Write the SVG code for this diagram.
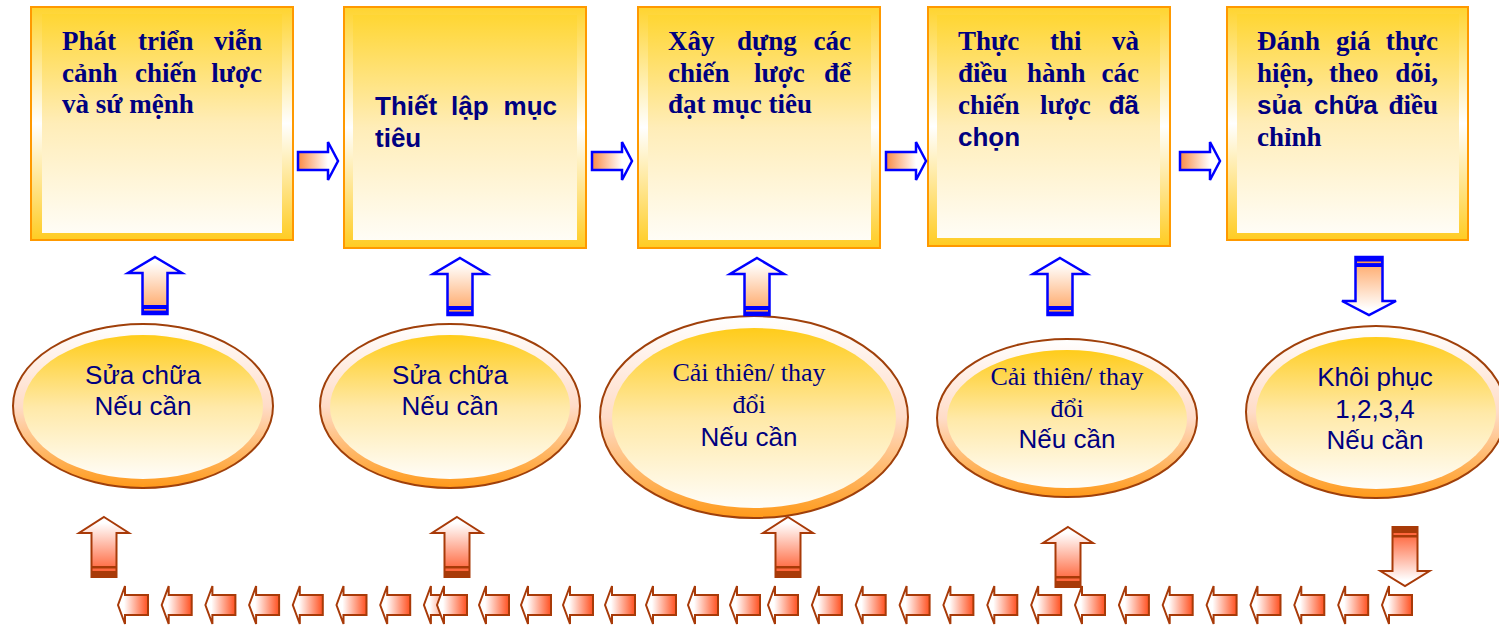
<svg xmlns="http://www.w3.org/2000/svg" width="1499" height="626" viewBox="0 0 1499 626">
<defs>
<linearGradient id="gBand" x1="0" y1="0" x2="0" y2="1"><stop offset="0" stop-color="#FFD42F"/><stop offset="0.5" stop-color="#FFFFFF"/><stop offset="1" stop-color="#FFCC22"/></linearGradient>
<linearGradient id="gInner" x1="0" y1="0" x2="0" y2="1"><stop offset="0" stop-color="#FFD633"/><stop offset="0.5" stop-color="#FFEDB8"/><stop offset="1" stop-color="#FFFDF6"/></linearGradient>
<linearGradient id="gRing" x1="0" y1="0" x2="0" y2="1"><stop offset="0" stop-color="#FFFFFF"/><stop offset="0.5" stop-color="#FFDCC8"/><stop offset="1" stop-color="#FF9A1A"/></linearGradient>
<linearGradient id="gEll" x1="0" y1="0" x2="0" y2="1"><stop offset="0" stop-color="#FFCC1A"/><stop offset="0.5" stop-color="#FFE9A8"/><stop offset="1" stop-color="#FFFDF8"/></linearGradient>
<linearGradient id="gBlueUp" x1="0" y1="0" x2="0" y2="1"><stop offset="0.1" stop-color="#FFFFFF"/><stop offset="1" stop-color="#FFA05A"/></linearGradient>
<linearGradient id="gBlueDown" x1="0" y1="0" x2="0" y2="1"><stop offset="0" stop-color="#FFA05A"/><stop offset="0.9" stop-color="#FFFFFF"/></linearGradient>
<linearGradient id="gRight" x1="0" y1="0" x2="1" y2="0"><stop offset="0" stop-color="#F98A45"/><stop offset="0.75" stop-color="#FFFFFF"/></linearGradient>
<linearGradient id="gBrUp" x1="0" y1="0" x2="0" y2="1"><stop offset="0.1" stop-color="#FFFFFF"/><stop offset="1" stop-color="#FF5020"/></linearGradient>
<linearGradient id="gBrDown" x1="0" y1="0" x2="0" y2="1"><stop offset="0" stop-color="#FF5020"/><stop offset="0.9" stop-color="#FFFFFF"/></linearGradient>
<linearGradient id="gLeft" x1="0" y1="0" x2="1" y2="0"><stop offset="0.2" stop-color="#FFFFFF"/><stop offset="1" stop-color="#FF5020"/></linearGradient>
<g id="arrRight"><path d="M0,-9 L30,-9 L30,-19 L40,0 L30,19 L30,9 L0,9 Z" fill="url(#gRight)" stroke="#0000FF" stroke-width="2.5"/></g>
<g id="arrBlueUp"><path d="M0,0 L27,16 L12.5,16 L12.5,57 L-12.5,57 L-12.5,16 L-27,16 Z" fill="url(#gBlueUp)" stroke="#0000FF" stroke-width="2.5" stroke-linejoin="miter"/><rect x="-12.5" y="48" width="25" height="9" fill="#0000FF"/><rect x="-11" y="52" width="22" height="1.6" fill="#FF9A50"/></g>
<g id="arrBlueDown"><path d="M-13.5,0 L13.5,0 L13.5,44 L27,44 L0,58 L-27,44 L-13.5,44 Z" fill="url(#gBlueDown)" stroke="#0000FF" stroke-width="2.5"/><rect x="-13.5" y="0" width="27" height="10" fill="#0000FF"/><rect x="-12" y="4.5" width="24" height="1.6" fill="#FF9A50"/></g>
<g id="arrBrUp"><path d="M0,0 L25,16 L12.5,16 L12.5,60 L-12.5,60 L-12.5,16 L-25,16 Z" fill="url(#gBrUp)" stroke="#A83A08" stroke-width="2"/><rect x="-12.5" y="49" width="25" height="2.5" fill="#A83A08"/><rect x="-12.5" y="54" width="25" height="6" fill="#A83A08"/></g>
<g id="arrBrDown"><path d="M-12.5,0 L12.5,0 L12.5,44 L24.5,44 L0,59 L-24.5,44 L-12.5,44 Z" fill="url(#gBrDown)" stroke="#A83A08" stroke-width="2"/><rect x="-12.5" y="0" width="25" height="6" fill="#A83A08"/><rect x="-12.5" y="8" width="25" height="2.5" fill="#A83A08"/></g>
<g id="arrLeft"><path d="M0,0 L7,-19 L7,-10 L30,-10 L30,10 L7,10 L7,19 Z" fill="url(#gLeft)" stroke="#A83A08" stroke-width="2"/></g>
</defs>
<style>
.band{fill:url(#gBand);stroke:#FF9900;stroke-width:2}
.inner{fill:url(#gInner)}
.ring{fill:url(#gRing);stroke:#A0400A;stroke-width:2}
.ein{fill:url(#gEll)}
.bs{font-family:"Liberation Serif","Times New Roman",serif;font-weight:bold;font-size:27px;fill:#000080}
.ba{font-family:"Liberation Sans",Arial,sans-serif;font-weight:bold;font-size:26px;fill:#000080}
.es{font-family:"Liberation Serif","Times New Roman",serif;font-size:26px;fill:#000080;text-anchor:middle}
.ea{font-family:"Liberation Sans",Arial,sans-serif;font-size:26px;fill:#000080;text-anchor:middle}
.e{text-anchor:end}
</style>
<rect width="1499" height="626" fill="#FFFFFF"/>

<g id="box1">
<rect class="band" x="31" y="7" width="262" height="233"/>
<rect class="inner" x="42" y="14" width="240" height="219"/>
<text class="bs" x="62" y="50">Phát</text><text class="bs" x="138" y="50">triển</text><text class="bs e" x="262" y="50">viễn</text>
<text class="bs" x="62" y="82">cảnh</text><text class="bs" x="135" y="82">chiến</text><text class="bs e" x="262" y="82">lược</text>
<text class="bs" x="62" y="113">và sứ mệnh</text>
</g>

<g id="box2">
<rect class="band" x="344" y="7" width="242" height="241"/>
<rect class="inner" x="353" y="15" width="224" height="225"/>
<text class="ba" x="375" y="115">Thiết</text><text class="ba" x="451" y="115">lập</text><text class="ba e" x="557" y="115">mục</text>
<text class="ba" x="375" y="147">tiêu</text>
</g>

<g id="box3">
<rect class="band" x="638" y="7" width="242" height="241"/>
<rect class="inner" x="648" y="15" width="223" height="225"/>
<text class="bs" x="668" y="50">Xây</text><text class="bs" x="737" y="50">dựng</text><text class="bs e" x="851" y="50">các</text>
<text class="bs" x="668" y="82">chiến</text><text class="bs" x="754" y="82">lược</text><text class="bs e" x="851" y="82">để</text>
<text class="bs" x="668" y="113">đạt mục tiêu</text>
</g>

<g id="box4">
<rect class="band" x="928" y="7" width="242" height="239"/>
<rect class="inner" x="937" y="15" width="223" height="223"/>
<text class="bs" x="958" y="50">Thực</text><text class="bs" x="1050" y="50">thi</text><text class="bs e" x="1139" y="50">và</text>
<text class="bs" x="958" y="82">điều</text><text class="bs" x="1027" y="82">hành</text><text class="bs e" x="1139" y="82">các</text>
<text class="bs" x="958" y="114">chiến</text><text class="bs" x="1040" y="114">lược</text><text class="ba e" x="1139" y="114">đã</text>
<text class="ba" x="958" y="146">chọn</text>
</g>

<g id="box5">
<rect class="band" x="1227" y="7" width="241" height="233"/>
<rect class="inner" x="1237" y="14" width="222" height="219"/>
<text class="bs" x="1257" y="50">Đánh</text><text class="bs" x="1336" y="50">giá</text><text class="bs e" x="1438" y="50">thực</text>
<text class="bs" x="1257" y="82">hiện,</text><text class="bs" x="1329" y="82">theo</text><text class="bs e" x="1438" y="82">dõi,</text>
<text class="ba" x="1257" y="114">sủa</text><text class="ba" x="1314" y="114">chữa</text><text class="bs e" x="1438" y="114">điều</text>
<text class="bs" x="1257" y="146">chỉnh</text>
</g>

<g id="ell1">
<ellipse class="ring" cx="143" cy="406" rx="130" ry="82"/>
<ellipse class="ein" cx="143" cy="407" rx="120" ry="72"/>
<text class="ea" x="143" y="384">Sửa chữa</text>
<text class="ea" x="143" y="415">Nếu cần</text>
</g>

<g id="ell2">
<ellipse class="ring" cx="450" cy="406" rx="130" ry="82"/>
<ellipse class="ein" cx="450" cy="407" rx="120" ry="72"/>
<text class="ea" x="450" y="384">Sửa chữa</text>
<text class="ea" x="450" y="415">Nếu cần</text>
</g>

<g id="ell3">
<ellipse class="ring" cx="754" cy="417" rx="154" ry="101"/>
<ellipse class="ein" cx="754" cy="418" rx="142" ry="90"/>
<text class="es" x="749" y="381">Cải thiên/ thay</text>
<text class="es" x="749" y="413">đổi</text>
<text class="ea" x="749" y="446">Nếu cần</text>
</g>

<g id="ell4">
<ellipse class="ring" cx="1067" cy="418" rx="130" ry="79"/>
<ellipse class="ein" cx="1067" cy="419" rx="120" ry="69"/>
<text class="es" x="1067" y="385">Cải thiên/ thay</text>
<text class="es" x="1067" y="417">đổi</text>
<text class="ea" x="1067" y="448">Nếu cần</text>
</g>

<g id="ell5">
<ellipse class="ring" cx="1376" cy="412" rx="130" ry="86"/>
<ellipse class="ein" cx="1376" cy="413" rx="120" ry="76"/>
<text class="ea" x="1375" y="386">Khôi phục</text>
<text class="ea" x="1375" y="418">1,2,3,4</text>
<text class="ea" x="1375" y="449">Nếu cần</text>
</g>

<g id="connectors">
<use href="#arrRight" transform="translate(298,161)"/>
<use href="#arrRight" transform="translate(592,161)"/>
<use href="#arrRight" transform="translate(886,161)"/>
<use href="#arrRight" transform="translate(1180,161)"/>
<use href="#arrBlueUp" transform="translate(155,257)"/>
<use href="#arrBlueUp" transform="translate(460,258)"/>
<use href="#arrBlueUp" transform="translate(757,258)"/>
<use href="#arrBlueUp" transform="translate(1060,258)"/>
<use href="#arrBlueDown" transform="translate(1369,257)"/>
<use href="#arrBrUp" transform="translate(104,517)"/>
<use href="#arrBrUp" transform="translate(457,517)"/>
<use href="#arrBrUp" transform="translate(788,517)"/>
<use href="#arrBrUp" transform="translate(1068,527)"/>
<use href="#arrBrDown" transform="translate(1405,527)"/>
<use href="#arrLeft" transform="translate(118,605)"/>
<use href="#arrLeft" transform="translate(161.7,605)"/>
<use href="#arrLeft" transform="translate(205.4,605)"/>
<use href="#arrLeft" transform="translate(249.1,605)"/>
<use href="#arrLeft" transform="translate(292.8,605)"/>
<use href="#arrLeft" transform="translate(336.5,605)"/>
<use href="#arrLeft" transform="translate(380.2,605)"/>
<use href="#arrLeft" transform="translate(423.9,605)"/>
<use href="#arrLeft" transform="translate(437,605)"/>
<use href="#arrLeft" transform="translate(479,605)"/>
<use href="#arrLeft" transform="translate(521,605)"/>
<use href="#arrLeft" transform="translate(563,605)"/>
<use href="#arrLeft" transform="translate(605,605)"/>
<use href="#arrLeft" transform="translate(646,605)"/>
<use href="#arrLeft" transform="translate(688,605)"/>
<use href="#arrLeft" transform="translate(730,605)"/>
<use href="#arrLeft" transform="translate(768,605)"/>
<use href="#arrLeft" transform="translate(811.9,605)"/>
<use href="#arrLeft" transform="translate(855.7,605)"/>
<use href="#arrLeft" transform="translate(899.6,605)"/>
<use href="#arrLeft" transform="translate(943.4,605)"/>
<use href="#arrLeft" transform="translate(987.3,605)"/>
<use href="#arrLeft" transform="translate(1031.2,605)"/>
<use href="#arrLeft" transform="translate(1075,605)"/>
<use href="#arrLeft" transform="translate(1118.9,605)"/>
<use href="#arrLeft" transform="translate(1162.7,605)"/>
<use href="#arrLeft" transform="translate(1206.6,605)"/>
<use href="#arrLeft" transform="translate(1250.5,605)"/>
<use href="#arrLeft" transform="translate(1294.3,605)"/>
<use href="#arrLeft" transform="translate(1338.2,605)"/>
<use href="#arrLeft" transform="translate(1382,605)"/>
</g>
</svg>
